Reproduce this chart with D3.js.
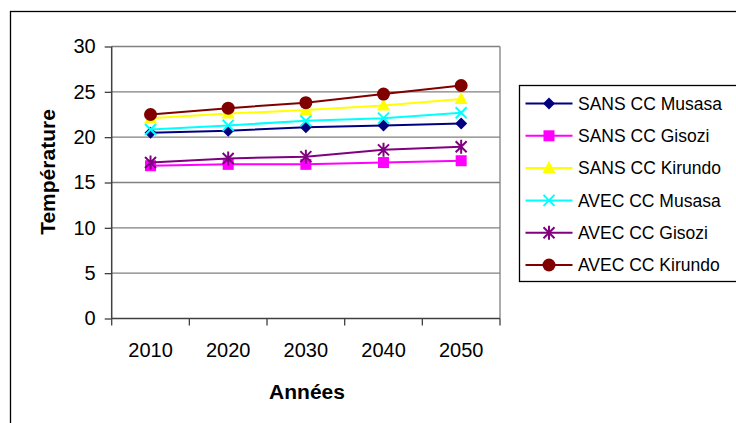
<!DOCTYPE html>
<html><head><meta charset="utf-8">
<script src="https://cdn.jsdelivr.net/npm/d3@7"></script>
<style>body{margin:0;background:#fff}svg{display:block;font-family:"Liberation Sans",Arial,sans-serif}</style>
</head><body><svg id="c" width="736" height="423"></svg>
<script>
const years = ["2010","2020","2030","2040","2050"];
const yTicks = [0,5,10,15,20,25,30];
const sansMusasa = [20.5,20.7,21.1,21.3,21.5];
const sansGisozi = [16.85,17.0,17.0,17.2,17.4];
const sansKirundo = [22.1,22.6,23.0,23.5,24.2];
const avecMusasa = [20.85,21.3,21.8,22.1,22.7];
const avecGisozi = [17.2,17.65,17.85,18.6,18.95];
const avecKirundo = [22.5,23.2,23.8,24.75,25.7];
const seriesNames = ["SANS CC Musasa","SANS CC Gisozi","SANS CC Kirundo","AVEC CC Musasa","AVEC CC Gisozi","AVEC CC Kirundo"];
const seriesValues = [sansMusasa,sansGisozi,sansKirundo,avecMusasa,avecGisozi,avecKirundo];
const seriesColors = ["#000080","#FF00FF","#FFFF00","#00FFFF","#800080","#800000"];
const seriesMarkers = ["diamond","square","triangle","x","star","circle"];

const svg = d3.select("#c");
svg.append("rect").attr("x",10.5).attr("y",11.5).attr("width",740).attr("height",430)
  .attr("fill","#fff").attr("stroke","#000").attr("stroke-width",1.3);

const L=111.7, R=500, T=46.5, B=318.5;
const x = d3.scaleBand().domain(years).range([L,R]);
const y = d3.scaleLinear().domain([0,30]).range([B,T]);
const g = svg.append("g");

// gridlines
g.selectAll(".grid").data(yTicks.filter(d=>d>0)).enter().append("line")
  .attr("x1",L).attr("x2",R).attr("y1",d=>y(d)).attr("y2",d=>y(d))
  .attr("stroke","#808080").attr("stroke-width",1.3);
g.append("line").attr("x1",R).attr("x2",R).attr("y1",T).attr("y2",B).attr("stroke","#808080").attr("stroke-width",1.3);

// axes
const yAxis = d3.axisLeft(y).tickValues(yTicks).tickSize(7).tickPadding(9);
const ya = g.append("g").attr("transform",`translate(${L},0)`).call(yAxis);
const xAxis = d3.axisBottom(x).tickSize(0).tickPadding(24);
const xa = g.append("g").attr("transform",`translate(0,${B})`).call(xAxis);
// category boundary ticks
const bounds = years.map(d=>x(d)).concat([R]);
g.selectAll(".bt").data(bounds).enter().append("line")
  .attr("x1",d=>d).attr("x2",d=>d).attr("y1",B).attr("y2",B+7).attr("stroke","#404040").attr("stroke-width",1.3);
[ya,xa].forEach(a=>{
  a.select(".domain").attr("stroke","#404040").attr("stroke-width",1.5);
  a.selectAll(".tick line").attr("stroke","#404040").attr("stroke-width",1.3);
  a.selectAll("text").attr("font-size",20).attr("fill","#000").attr("font-family","Liberation Sans, Arial, sans-serif");
});
ya.select(".domain").attr("d",`M0,${B}V${T}`);
xa.select(".domain").attr("d",`M${L},0H${R}`);

// titles
svg.append("text").attr("x",307).attr("y",399).attr("text-anchor","middle")
  .attr("font-size",21).attr("font-weight","bold").text("Années");
svg.append("text").attr("transform","translate(55,172) rotate(-90)").attr("text-anchor","middle")
  .attr("font-size",21).attr("font-weight","bold").text("Température");

function marker(sel, type, color){
  if(type==="diamond") sel.append("path").attr("d","M0,-6L6,0L0,6L-6,0Z").attr("fill",color);
  else if(type==="square") sel.append("rect").attr("x",-5.5).attr("y",-5.5).attr("width",11).attr("height",11).attr("fill",color);
  else if(type==="triangle") sel.append("path").attr("d","M0,-7L6.5,5L-6.5,5Z").attr("fill",color);
  else if(type==="x") sel.append("path").attr("d","M-5.5,-5.5L5.5,5.5M-5.5,5.5L5.5,-5.5").attr("stroke",color).attr("stroke-width",2);
  else if(type==="star") sel.append("path").attr("d","M-5.5,-5.5L5.5,5.5M-5.5,5.5L5.5,-5.5M0,-7V7").attr("stroke",color).attr("stroke-width",2);
  else if(type==="circle") sel.append("circle").attr("r",6.5).attr("fill",color);
}

const line = d3.line().x((d,i)=>x(years[i])+x.bandwidth()/2).y(d=>y(d));
seriesValues.forEach((vals,k)=>{
  const sg = g.append("g");
  sg.append("path").attr("d",line(vals)).attr("fill","none").attr("stroke",seriesColors[k]).attr("stroke-width",2);
  vals.forEach((v,i)=>{
    const m = sg.append("g").attr("transform",`translate(${x(years[i])+x.bandwidth()/2},${y(v)})`);
    marker(m, seriesMarkers[k], seriesColors[k]);
  });
});

// legend
const lg = svg.append("g");
lg.append("rect").attr("x",519.5).attr("y",85.5).attr("width",240).attr("height",196)
  .attr("fill","#fff").attr("stroke","#000").attr("stroke-width",1.3);
seriesNames.forEach((n,k)=>{
  const yy = 103.5 + k*32.3;
  lg.append("line").attr("x1",525.5).attr("x2",572.5).attr("y1",yy).attr("y2",yy).attr("stroke",seriesColors[k]).attr("stroke-width",2);
  const m = lg.append("g").attr("transform",`translate(549,${yy})`);
  marker(m, seriesMarkers[k], seriesColors[k]);
  lg.append("text").attr("x",578).attr("y",yy).attr("dy","0.36em").attr("font-size",17.5).text(n);
});
</script></body></html>
